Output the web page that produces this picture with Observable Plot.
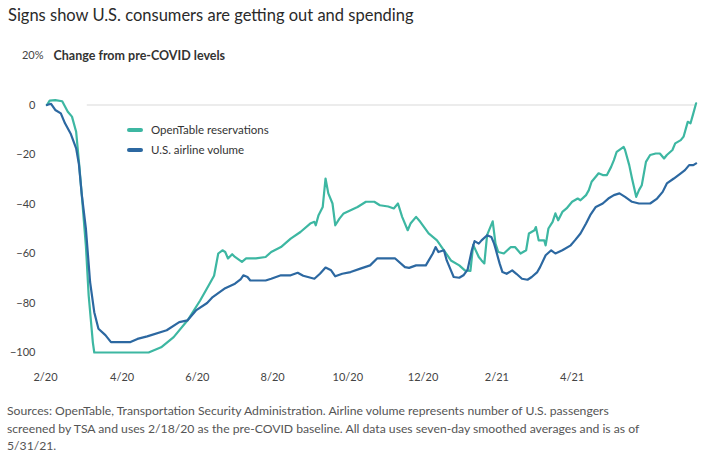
<!DOCTYPE html>
<html><head><meta charset="utf-8">
<script src="https://cdn.jsdelivr.net/npm/d3@7"></script>
<script src="https://cdn.jsdelivr.net/npm/@observablehq/plot@0.6"></script>
<style>
body{margin:0;background:#fff;font-family:Lato,"Open Sans",sans-serif;}
#wrap{width:712px;height:464px;position:relative;overflow:hidden;background:#fff}
#title{position:absolute;left:8px;top:5px;font-size:16.5px;color:#2a2a2a;white-space:nowrap}
#chart{position:absolute;left:0;top:30px}
#legend{position:absolute;left:127px;top:120px;font-size:11.5px;color:#333;line-height:19.5px}
#legend .sw{display:inline-block;width:16px;height:4px;border-radius:2px;vertical-align:middle;margin-right:8px;position:relative;top:-1px}
#note{position:absolute;left:7px;top:402px;font-size:12.2px;line-height:17.5px;color:#555;white-space:nowrap}
</style></head><body>
<div id="wrap">
<div id="title">Signs show U.S. consumers are getting out and spending</div>
<div id="chart"></div>
<div id="legend"></div>
<div id="note">Sources: OpenTable, Transportation Security Administration. Airline volume represents number of U.S. passengers<br>screened by TSA and uses 2/18/20 as the pre-COVID baseline. All data uses seven-day smoothed averages and is as of<br>5/31/21.</div>
</div>
<script>
// Day offsets are days since the 2/18/20 baseline
const baselineDate = "2020-02-18";
const lastDay = 468;

const openTableDay = [1,3,7,12,16,19,22,24,26,29,31,34,35,74,83,92,102,111,117,121,124,127,129,131,134,136,141,144,151,158,162,169,176,183,190,193,194,196,199,201,203,206,208,211,214,219,224,230,236,240,246,250,253,256,260,262,266,269,275,281,286,291,297,301,305,307,311,313,315,317,321,323,325,329,334,337,341,345,347,351,352,354,358,359,361,364,366,368,371,374,378,382,384,388,390,392,396,397,400,403,406,408,410,415,416,419,421,424,426,428,431,434,438,441,444,446,450,452,456,458,461,463,465,467];
const openTableValue = [0,1.8,2,1.5,-2.7,-4.7,-10.8,-23,-36,-57,-77,-96,-100,-100,-97.9,-93.8,-87,-79,-73,-69,-60,-58.7,-59.4,-62,-60.3,-61.4,-63.4,-62,-62,-61.4,-59.4,-57.4,-54,-51.3,-47.9,-47.2,-48.6,-44.5,-41.2,-29.7,-35.7,-39.8,-48.6,-45.9,-43.8,-42.5,-41.2,-39.1,-39.1,-40.5,-41,-41.8,-39.8,-45.2,-50.6,-47.9,-45.2,-47.2,-51.9,-54.7,-58.7,-62.8,-64.8,-66.8,-67,-56.5,-61.4,-62.8,-64,-52.5,-47,-56,-59.4,-60,-57.4,-57.4,-60,-58.7,-51.9,-50.6,-49.3,-54.7,-54.7,-56.7,-49.9,-47.2,-43.8,-46.6,-43.2,-41.8,-39.1,-37.8,-38.5,-36.4,-34.4,-31,-28.3,-27.6,-28.3,-28.3,-25,-22.3,-18.9,-16.9,-18.2,-24.3,-29.7,-37.1,-34.4,-32.4,-23,-20.2,-19.6,-19.6,-21.6,-20.2,-18.2,-15.5,-14.2,-12.8,-6.8,-7.4,-3.4,0.7];

const airlineDay = [1,4,7,11,14,18,22,24,26,29,32,35,38,43,47,51,61,66,73,87,96,102,108,116,120,129,136,140,142,145,147,158,162,169,176,181,185,193,197,201,205,208,213,219,226,233,238,251,258,261,266,273,278,280,282,286,288,291,293,297,300,303,306,308,311,313,317,320,322,323,326,328,331,335,338,342,346,349,353,355,359,363,366,371,377,380,384,388,391,395,400,404,408,412,416,421,426,434,439,443,446,451,456,459,462,465,467];
const airlineValue = [0,0.5,-2,-3.4,-7.4,-11.5,-17.5,-24,-36,-50,-71.5,-83.7,-90.4,-93,-95.8,-95.8,-95.8,-94.5,-93.5,-91,-87.7,-87,-83,-80,-77.6,-74,-72.2,-70.5,-68.8,-69.5,-70.9,-70.9,-70.2,-68.8,-68.8,-67.8,-69,-70.2,-68.2,-65.7,-66.8,-69.2,-68.2,-67.5,-66.1,-64.8,-62,-62,-65.5,-65.8,-64.8,-64.8,-60,-57.4,-59.4,-58.7,-62.8,-66.8,-69.5,-69.8,-68.8,-66.5,-58.7,-55,-56,-54.7,-52.6,-53.3,-56,-58,-64.1,-67.5,-68.2,-66.8,-68.2,-70.2,-70.6,-69.5,-67.5,-65.5,-60.7,-58.7,-60,-58.7,-56.7,-54.7,-51.9,-47.9,-44.5,-41.2,-39.8,-37.8,-36.4,-35.7,-37.1,-39.1,-39.8,-39.8,-37.8,-35.1,-31.7,-29.7,-27.6,-26.3,-24.3,-24.3,-23.6];

const xTickDay = [0,55,109,163,217,271,324,378];
const xTickLabel = ["2/20","4/20","6/20","8/20","10/20","12/20","2/21","4/21"];
const yTicks = [0,-20,-40,-60,-80,-100];
const yTopTick = [20];
const gridStartDay = 30;
const seriesNames = ["OpenTable reservations","U.S. airline volume"];
const seriesColors = ["#3db7a2","#2c68a1"];
const axisTitle = "Change from pre-COVID levels";

const base = new Date(baselineDate + "T00:00:00Z");
const toDate = d => new Date(+base + d * 864e5);

const openTable = openTableDay.map((d, i) => ({date: toDate(d), value: openTableValue[i]}));
const airline = airlineDay.map((d, i) => ({date: toDate(d), value: airlineValue[i]}));
const tickDates = xTickDay.map(toDate);
const tickLabelOf = new Map(tickDates.map((d, i) => [+d, xTickLabel[i]]));

const chart = Plot.plot({
  width: 712,
  height: 362,
  marginLeft: 45,
  marginRight: 15,
  marginTop: 25,
  marginBottom: 40,
  style: {fontFamily: "Lato, 'Open Sans', sans-serif", background: "#fff", color: "#444"},
  x: {type: "utc", domain: [base, toDate(lastDay)]},
  y: {domain: [-100, 20]},
  marks: [
    Plot.ruleY([0], {x1: toDate(gridStartDay), x2: toDate(lastDay - 1), stroke: "#ececec", strokeWidth: 2}),
    Plot.axisY({ticks: yTicks, tickSize: 0, tickPadding: 10, fontSize: 11, fill: "#444", label: null}),
    Plot.axisY({ticks: yTopTick, tickSize: 0, tickPadding: 2, fontSize: 11, fill: "#444", label: null, tickFormat: d => d + "%"}),
    Plot.text([{y: 20, t: axisTitle}], {y: "y", text: "t", frameAnchor: "left", textAnchor: "start", dx: 8, fontSize: 12.5, fontWeight: "bold", fill: "#333"}),
    Plot.axisX({ticks: tickDates, tickSize: 0, tickPadding: 21, fontSize: 11, fill: "#444", label: null, tickFormat: d => tickLabelOf.get(+d)}),
    Plot.line(openTable, {x: "date", y: "value", stroke: seriesColors[0], strokeWidth: 2.2}),
    Plot.line(airline, {x: "date", y: "value", stroke: seriesColors[1], strokeWidth: 2.2})
  ]
});
document.getElementById("chart").appendChild(chart);

const legend = document.getElementById("legend");
seriesNames.forEach((n, i) => {
  const row = document.createElement("div");
  row.innerHTML = `<span class="sw" style="background:${seriesColors[i]}"></span>${n}`;
  legend.appendChild(row);
});
</script>
</body></html>
